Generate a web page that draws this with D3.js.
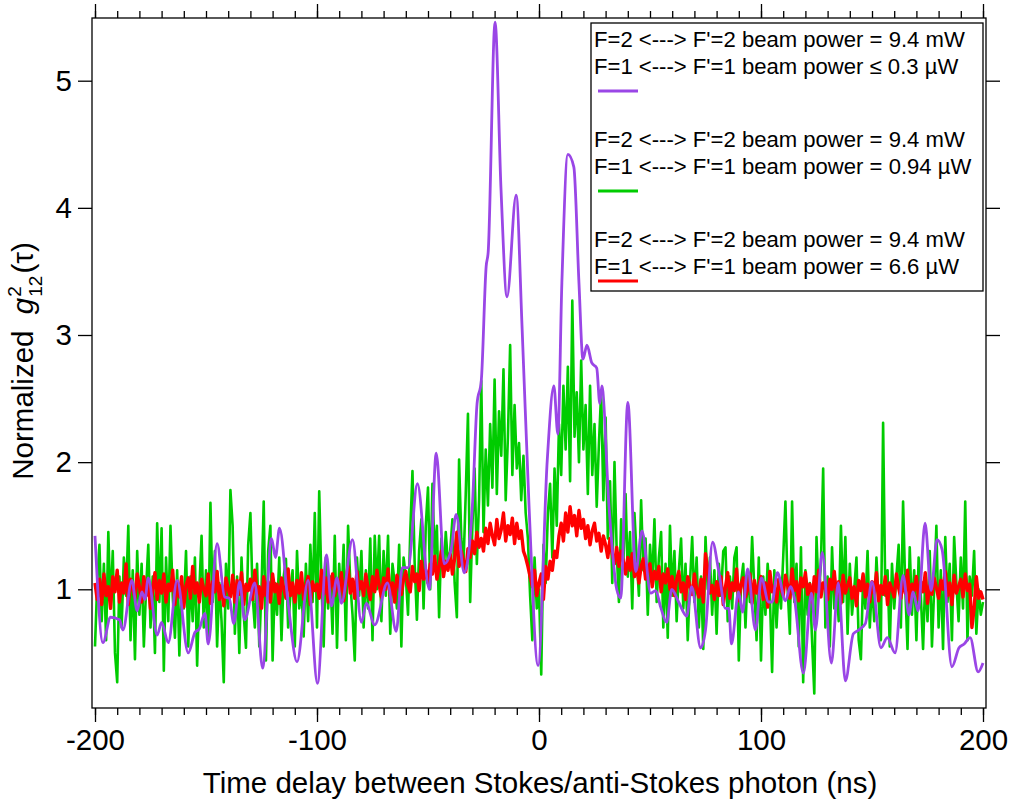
<!DOCTYPE html>
<html><head><meta charset="utf-8">
<script src="https://cdn.jsdelivr.net/npm/d3@7"></script>
<style>body{margin:0;background:#fff}svg{display:block}text{font-family:"Liberation Sans",Arial,sans-serif}</style>
</head><body>
<svg id="c" width="1010" height="803"></svg>
<script>
// ---------- data ----------
const xTickValues = [-200, -100, 0, 100, 200];
const yTickValues = [1, 2, 3, 4, 5];
const tStart = -200, tStep = 1; // green & red bins (ns)

const legendLabels = [
  ["F=2 <---> F'=2 beam power = 9.4 mW", "F=1 <---> F'=1 beam power \u2264 0.3 \u00b5W"],
  ["F=2 <---> F'=2 beam power = 9.4 mW", "F=1 <---> F'=1 beam power = 0.94 \u00b5W"],
  ["F=2 <---> F'=2 beam power = 9.4 mW", "F=1 <---> F'=1 beam power = 6.6 \u00b5W"]
];

// green: 0.94 µW, 1-ns bins from -200 to 200
const greenValues = [
 0.55,1.05,1.35,0.75,1.20,0.60,1.45,0.85,1.30,0.50,
 0.27,1.10,0.70,1.25,0.95,1.50,0.60,1.15,0.45,1.30,
 0.80,1.20,0.55,1.00,1.35,0.70,1.10,0.50,1.52,0.90,
 1.48,0.36,1.25,0.75,1.50,0.95,0.62,1.15,0.48,1.05,
 0.85,1.30,0.55,1.10,0.75,1.25,0.40,1.00,1.42,0.70,
 1.15,0.60,1.68,0.90,1.30,0.55,1.05,0.75,0.27,1.20,
 0.85,1.78,1.50,0.65,1.10,0.50,1.25,0.80,0.54,1.35,
 1.60,0.95,0.70,1.20,0.55,1.00,1.69,0.44,1.30,1.50,
 0.44,1.05,0.80,1.25,0.60,1.10,1.24,0.70,0.95,1.15,
 0.55,1.30,0.85,1.00,0.63,1.20,0.75,1.35,0.90,1.60,
 0.70,1.77,1.05,0.55,1.25,0.85,1.10,0.65,1.42,0.54,
 1.20,0.90,1.35,0.60,1.50,1.05,0.80,0.44,1.25,0.95,
 1.30,0.70,1.15,0.85,1.40,0.60,1.42,1.00,1.42,0.75,
 1.30,0.95,1.42,0.65,1.20,1.05,0.85,1.35,0.55,1.25,
 1.10,0.80,1.45,1.93,1.20,0.76,1.30,1.55,0.85,1.50,
 1.80,1.00,1.83,1.25,1.50,0.78,1.40,1.10,1.45,1.20,
 1.30,1.55,1.05,0.78,2.02,1.40,1.20,1.75,2.38,0.90,
 1.50,1.95,1.20,1.70,2.64,1.45,2.10,1.66,2.30,1.80,
 2.65,1.75,2.40,2.05,2.73,1.70,2.20,2.92,1.90,2.45,
 1.95,2.15,1.70,2.05,1.60,1.40,0.95,0.60,1.25,0.85,
 1.00,0.33,1.35,1.05,1.60,1.83,1.25,1.95,1.50,2.30,
 1.90,2.60,2.10,2.75,1.85,3.27,2.20,2.55,2.00,2.80,
 2.10,2.45,1.75,2.60,1.90,2.30,1.65,2.15,2.55,1.70,
 2.35,1.40,1.85,1.05,2.00,1.30,0.90,1.55,1.20,1.75,
 1.10,1.45,0.85,1.60,1.25,0.95,1.70,1.15,1.40,0.80,
 1.35,1.05,1.55,0.90,1.25,1.45,0.70,1.20,0.62,1.50,
 0.95,1.30,0.75,1.15,1.40,0.85,1.20,0.60,1.05,1.41,
 0.90,1.25,0.70,1.10,0.53,1.41,1.00,1.25,0.80,1.15,
 0.65,1.20,0.95,1.30,1.33,0.75,1.10,0.85,1.25,1.33,
 0.44,1.05,1.20,0.70,1.15,0.90,1.41,1.00,0.60,1.25,
 0.44,1.10,0.80,1.20,0.95,0.35,1.15,0.70,1.05,0.85,
 1.25,1.69,1.00,0.65,1.69,0.90,1.20,0.55,1.33,0.27,
 1.15,0.80,1.05,0.60,0.18,1.41,0.95,1.20,1.95,0.70,
 1.10,0.55,1.33,0.85,1.05,0.75,1.50,0.90,1.41,0.65,
 1.20,0.80,1.00,1.25,0.60,0.45,1.10,0.85,1.30,0.70,
 1.05,0.75,1.25,0.90,0.60,2.31,0.95,1.15,0.55,1.20,
 0.85,1.10,1.35,0.70,1.69,1.00,0.53,1.33,0.80,1.15,
 0.60,1.25,0.95,0.53,1.10,0.75,1.30,0.55,1.00,1.50,
 0.70,1.15,0.53,1.41,0.90,1.20,0.60,1.41,1.05,0.75,
 1.25,0.85,1.69,0.60,1.10,0.95,1.30,0.65,1.00,0.80,
 0.90
];

// red: 6.6 µW, 1-ns bins from -200 to 200
const redValues = [
 1.05,0.92,1.08,0.88,1.12,0.95,1.02,0.85,1.10,0.98,
 1.15,0.90,1.05,0.97,1.20,0.88,1.08,1.00,0.93,1.12,
 1.02,0.90,1.10,0.95,1.05,0.85,1.00,1.13,0.92,1.07,
 0.97,1.12,0.90,1.04,0.99,1.15,0.88,1.06,0.94,1.10,
 0.86,1.03,1.09,0.93,1.18,0.97,1.05,0.90,1.08,1.00,
 0.95,1.12,0.89,1.06,0.98,1.14,0.92,1.03,0.87,1.09,
 1.00,0.94,1.11,0.90,1.07,0.96,1.13,0.88,1.04,0.99,
 1.08,0.92,1.15,0.97,1.02,0.85,1.10,0.95,1.06,0.90,
 1.12,0.98,1.04,0.89,1.09,1.01,0.93,1.16,0.95,1.05,
 0.90,1.07,0.97,1.13,0.92,1.03,1.10,0.88,1.06,0.99,
 1.04,0.93,1.15,0.96,1.09,0.90,1.02,1.12,0.95,1.07,
 0.98,1.13,0.91,1.05,1.18,0.97,1.08,0.93,1.14,1.00,
 1.06,0.95,1.12,1.01,0.92,1.10,0.98,1.15,1.03,0.94,
 1.09,1.00,1.16,0.95,1.05,0.90,1.11,1.02,0.96,1.08,
 1.14,1.03,0.98,1.18,1.06,1.12,0.99,1.22,1.08,1.15,
 1.05,1.20,1.12,1.26,1.08,1.18,1.30,1.10,1.22,1.15,
 1.28,1.12,1.24,1.45,1.18,1.30,1.22,1.14,1.32,1.25,
 1.38,1.28,1.45,1.33,1.40,1.30,1.48,1.36,1.52,1.42,
 1.35,1.55,1.40,1.47,1.60,1.38,1.50,1.43,1.56,1.36,
 1.52,1.40,1.46,1.30,1.25,1.18,1.10,1.02,1.15,0.95,
 1.05,1.12,0.92,1.18,1.08,1.22,1.15,1.30,1.25,1.42,
 1.52,1.38,1.60,1.45,1.65,1.50,1.58,1.42,1.62,1.48,
 1.55,1.40,1.50,1.35,1.46,1.52,1.38,1.44,1.30,1.42,
 1.35,1.25,1.40,1.28,1.20,1.33,1.18,1.30,1.22,1.12,
 1.25,1.15,1.28,1.10,1.20,1.05,1.18,1.24,1.08,1.15,
 1.20,1.02,1.14,1.08,1.18,0.98,1.12,1.05,1.16,1.00,
 1.10,0.95,1.08,1.14,0.98,1.05,0.92,1.10,1.02,0.96,
 1.12,1.00,0.94,1.08,0.90,1.28,1.15,0.97,1.03,0.92,
 1.06,0.95,1.10,0.88,1.02,1.13,0.93,1.05,0.99,1.16,
 0.91,1.04,1.09,0.94,1.00,1.12,0.89,1.07,0.97,1.03,
 1.10,0.92,1.05,0.86,1.14,0.98,1.02,0.90,1.08,1.00,
 0.95,1.11,1.03,0.93,1.16,0.99,1.06,0.91,1.09,1.02,
 1.13,0.96,1.04,0.90,1.10,0.98,1.15,0.94,1.05,1.01,
 0.92,1.08,1.00,1.14,0.95,1.06,0.89,1.11,0.97,1.03,
 1.09,0.93,1.02,0.87,1.07,0.99,1.12,0.94,1.04,0.90,
 1.06,0.97,1.13,0.91,1.03,0.96,1.10,0.88,1.05,1.00,
 0.94,1.12,1.01,0.93,1.08,0.97,1.15,0.90,1.04,0.99,
 1.10,0.92,1.06,0.98,1.13,0.89,1.03,0.96,1.09,1.01,
 0.93,1.07,1.00,1.14,0.95,1.05,0.88,1.11,0.97,1.02,
 1.08,0.94,1.12,0.99,1.04,0.70,0.85,1.10,0.93,0.98,
 0.92
];

// purple: <= 0.3 µW, smooth trace sampled at its turning points
const purpleTimes = [-200,-196.4,-193,-189,-187.4,-183.4,-181,-178.9,-177.5,-176,-172,-170,-167,-163,-158,-155,-153,-150.5,-149,-145,-141.6,-139.5,-137.5,-134.8,-132.6,-128,-124.5,-120.5,-118.7,-116.9,-113,-109,-104,-99.8,-95.7,-93.5,-91,-89,-84,-80,-77.8,-74,-68.3,-64.3,-61.6,-59,-54.8,-49.4,-46.3,-42.7,-39.6,-37.3,-33.7,-30,-27.9,-26,-23.8,-22.9,-19.8,-17.1,-14.4,-10.3,-7.6,-4.5,-0.4,3.7,6.7,8.5,10.3,13,15.7,18,19.8,21.6,23.8,26,27.4,28.3,31.5,35,36.8,40,43.6,46.4,50.3,52.6,54.8,57.5,59.8,62.9,66.5,68.8,72.8,75,78.2,80.9,84,85.5,86.7,89.9,91.7,94,97.5,100.2,103.4,105,107.4,111,113.3,115,119.1,122.7,124.5,127.6,131.7,134.8,138,141.6,144,147,150,154,156.9,160.4,164,166.7,168.5,170.8,173.9,176.6,179.3,181.6,186,189.2,191.5,194.2,197.8,200];
const purpleValues = [1.42,0.58,0.78,0.76,0.68,1.07,0.83,0.98,0.92,1.09,0.64,0.74,0.58,1.07,0.50,0.66,0.69,0.81,0.57,1.36,0.94,0.93,0.73,1.06,0.76,1.05,0.38,1.40,1.25,1.48,0.89,0.43,1.07,0.26,1.27,0.87,1.09,0.89,1.39,0.74,0.89,0.72,1.05,0.67,1.17,1.17,1.83,1.00,2.07,1.20,1.31,1.59,1.13,1.66,2.46,2.64,3.54,3.65,5.46,4.14,3.30,4.10,3.05,1.66,0.40,2.01,2.60,2.22,3.41,4.42,4.32,3.41,2.81,2.92,2.78,2.74,2.46,2.60,1.66,1.00,0.93,2.47,1.14,1.46,0.97,0.99,0.86,0.74,1.00,0.90,0.79,1.02,0.54,0.68,1.37,1.15,0.85,0.85,0.57,0.98,0.82,1.16,0.68,1.09,0.90,0.90,1.13,0.91,1.02,0.93,0.34,0.97,0.68,1.29,0.42,1.05,0.28,0.65,0.68,0.73,1.06,0.54,0.62,0.50,1.11,0.80,0.98,0.83,1.52,0.99,1.39,1.31,0.39,0.54,0.57,0.62,0.35,0.42];

const colors = {purple: "#9a46e6", green: "#00cc00", red: "#ff0000"};

// ---------- drawing ----------
const svg = d3.select("#c");
const frame = {left: 92, right: 986, top: 18, bottom: 708};
const x = d3.scaleLinear().domain([-200, 200]).range([95, 983]);
const y = d3.scaleLinear().domain([1, 5]).range([589.3, 80.7]);

const F = '"Liberation Sans",Arial,sans-serif';
const AX = 29.5;

const minorX = d3.range(-200, 201, 10);
function styleAxis(g){ g.select(".domain").remove(); g.selectAll("line").attr("stroke","#000").attr("stroke-width",1.3); g.selectAll("text").attr("font-family",F).attr("font-size",AX).attr("fill","#000"); }

svg.append("g").attr("transform",`translate(0,${frame.bottom})`)
  .call(d3.axisBottom(x).tickValues(minorX).tickSize(7).tickFormat("")).call(styleAxis);
svg.append("g").attr("transform",`translate(0,${frame.bottom})`)
  .call(d3.axisBottom(x).tickValues(xTickValues).tickSize(14).tickPadding(7).tickFormat(d=>String(d))).call(styleAxis);
svg.append("g").attr("transform",`translate(0,${frame.top})`)
  .call(d3.axisTop(x).tickValues(minorX).tickSize(7).tickFormat("")).call(styleAxis);
svg.append("g").attr("transform",`translate(0,${frame.top})`)
  .call(d3.axisTop(x).tickValues(xTickValues).tickSize(14).tickFormat("")).call(styleAxis);
svg.append("g").attr("transform",`translate(${frame.left},0)`)
  .call(d3.axisLeft(y).tickValues(yTickValues).tickSize(14).tickPadding(6).tickFormat(d=>String(d))).call(styleAxis);
svg.append("g").attr("transform",`translate(${frame.right},0)`)
  .call(d3.axisRight(y).tickValues(yTickValues).tickSize(14).tickFormat("")).call(styleAxis);

svg.append("clipPath").attr("id","pc").append("rect")
  .attr("x",frame.left).attr("y",frame.top).attr("width",frame.right-frame.left).attr("height",frame.bottom-frame.top);

const plot = svg.append("g").attr("clip-path","url(#pc)");
const binLine = d3.line().x((d,i)=>x(tStart+i*tStep)).y(d=>y(d));
plot.append("path").datum(greenValues).attr("d",binLine).attr("fill","none")
  .attr("stroke",colors.green).attr("stroke-width",2.6).attr("stroke-linejoin","round");
plot.append("path").datum(redValues).attr("d",binLine).attr("fill","none")
  .attr("stroke",colors.red).attr("stroke-width",3.4).attr("stroke-linejoin","round");
const purpleLine = d3.line().x(d=>x(d[0])).y(d=>y(d[1])).curve(d3.curveMonotoneX);
plot.append("path").datum(purpleTimes.map((t,i)=>[t,purpleValues[i]])).attr("d",purpleLine)
  .attr("fill","none").attr("stroke",colors.purple).attr("stroke-width",2.8).attr("stroke-linejoin","round");

svg.append("rect").attr("x",frame.left).attr("y",frame.top).attr("width",frame.right-frame.left)
  .attr("height",frame.bottom-frame.top).attr("fill","none").attr("stroke","#000").attr("stroke-width",1.3);

// legend
const lg = svg.append("g");
lg.append("rect").attr("x",591).attr("y",23).attr("width",392).attr("height",268)
  .attr("fill","#fff").attr("stroke","#000").attr("stroke-width",1.3);
const legColors = [colors.purple, colors.green, colors.red];
legendLabels.forEach((pair,k)=>{
  const by = 47 + k*100;
  pair.forEach((s,j)=>{
    lg.append("text").attr("x",594).attr("y",by + j*27).attr("font-family",F).attr("font-size",22.1).text(s);
  });
  const ly = by + 44 - (k===2?10:0);
  lg.append("line").attr("x1",598).attr("x2",638).attr("y1",ly).attr("y2",ly)
    .attr("stroke",legColors[k]).attr("stroke-width",3);
});

// x title
svg.append("text").attr("x",540).attr("y",793).attr("text-anchor","middle")
  .attr("font-family",F).attr("font-size",AX).text("Time delay between Stokes/anti-Stokes photon (ns)");

// y title (rotated, composed)
const yt = svg.append("g");
let cx = 0;
const t1 = yt.append("text").attr("font-family",F).attr("font-size",AX).attr("x",0).attr("y",0).text("Normalized\u00a0\u00a0");
cx += t1.node().getComputedTextLength();
const tg = yt.append("text").attr("font-family",F).attr("font-size",AX).attr("font-style","italic").attr("x",cx).attr("y",0).text("g");
cx += tg.node().getComputedTextLength() + 1;
const tsup = yt.append("text").attr("font-family",F).attr("font-size",19).attr("x",cx).attr("y",-12).text("2");
const tsub = yt.append("text").attr("font-family",F).attr("font-size",19).attr("x",cx).attr("y",9).text("12");
cx += Math.max(tsup.node().getComputedTextLength(), tsub.node().getComputedTextLength()) + 2;
const tp = yt.append("text").attr("font-family",F).attr("font-size",AX).attr("x",cx).attr("y",0).text("(\u03c4)");
cx += tp.node().getComputedTextLength();
yt.attr("transform",`translate(33,${361 + cx/2}) rotate(-90)`);
</script>
</body></html>
